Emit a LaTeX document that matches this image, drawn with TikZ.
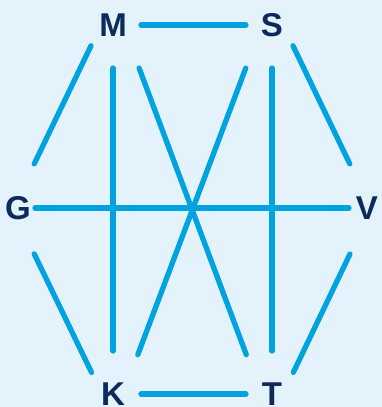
\documentclass[tikz,border=0pt]{standalone}
\usepackage{fontspec}
\setmainfont{Liberation Sans}
\usetikzlibrary{backgrounds}
\definecolor{bgblue}{HTML}{E3F2FB}
\definecolor{linkblue}{HTML}{00A3E0}
\definecolor{navy}{HTML}{0B2B5C}
\tikzset{
  letter/.style = {inner sep=0pt, text=navy, font=\fontsize{33}{33}\selectfont\bfseries},
  link/.style   = {linkblue, line width=5.3pt, line cap=round}
}

\begin{document}
\begin{tikzpicture}[x=1pt, y=-1pt]
    \path[use as bounding box, fill=bgblue] (0,0) rectangle (382,407);
    % Letters
    \node[letter] (M) at (113,25) {M};
    \node[letter] (S) at (272,25) {S};
    \node[letter] (G) at (18,208) {G};
    \node[letter] (V) at (367,208) {V};
    \node[letter] (K) at (113,394) {K};
    \node[letter] (T) at (272,394) {T};
    % Outer links
    \draw[link, shorten <=28pt, shorten >=26pt] (M.center) -- (S.center);
    \draw[link, shorten <=28pt, shorten >=26pt] (K.center) -- (T.center);
    \draw[link, shorten <=17pt, shorten >=18pt] (G.center) -- (V.center);
    \draw[link, shorten <=23pt, shorten >=49pt] ([xshift=-12pt]M.center) -- ([xshift=-5pt]G.center);
    \draw[link, shorten <=23pt, shorten >=49pt] ([xshift=11pt]S.center) -- ([xshift=4pt]V.center);
    \draw[link, shorten <=51pt, shorten >=24pt] ([xshift=-6pt]G.center) -- ([xshift=-11pt]K.center);
    \draw[link, shorten <=51pt, shorten >=24pt] ([xshift=5pt]V.center) -- ([xshift=11pt]T.center);
    % Inner links
    \draw[link, shorten <=43pt, shorten >=43pt] (M.center) -- (K.center);
    \draw[link, shorten <=43pt, shorten >=43pt] (S.center) -- (T.center);
    \draw[link, shorten <=46pt, shorten >=42pt] ([xshift=10pt]M.center) -- ([xshift=-11pt]T.center);
    \draw[link, shorten <=46pt, shorten >=42pt] ([xshift=-10pt]S.center) -- ([xshift=10pt]K.center);
\end{tikzpicture}
\end{document}
